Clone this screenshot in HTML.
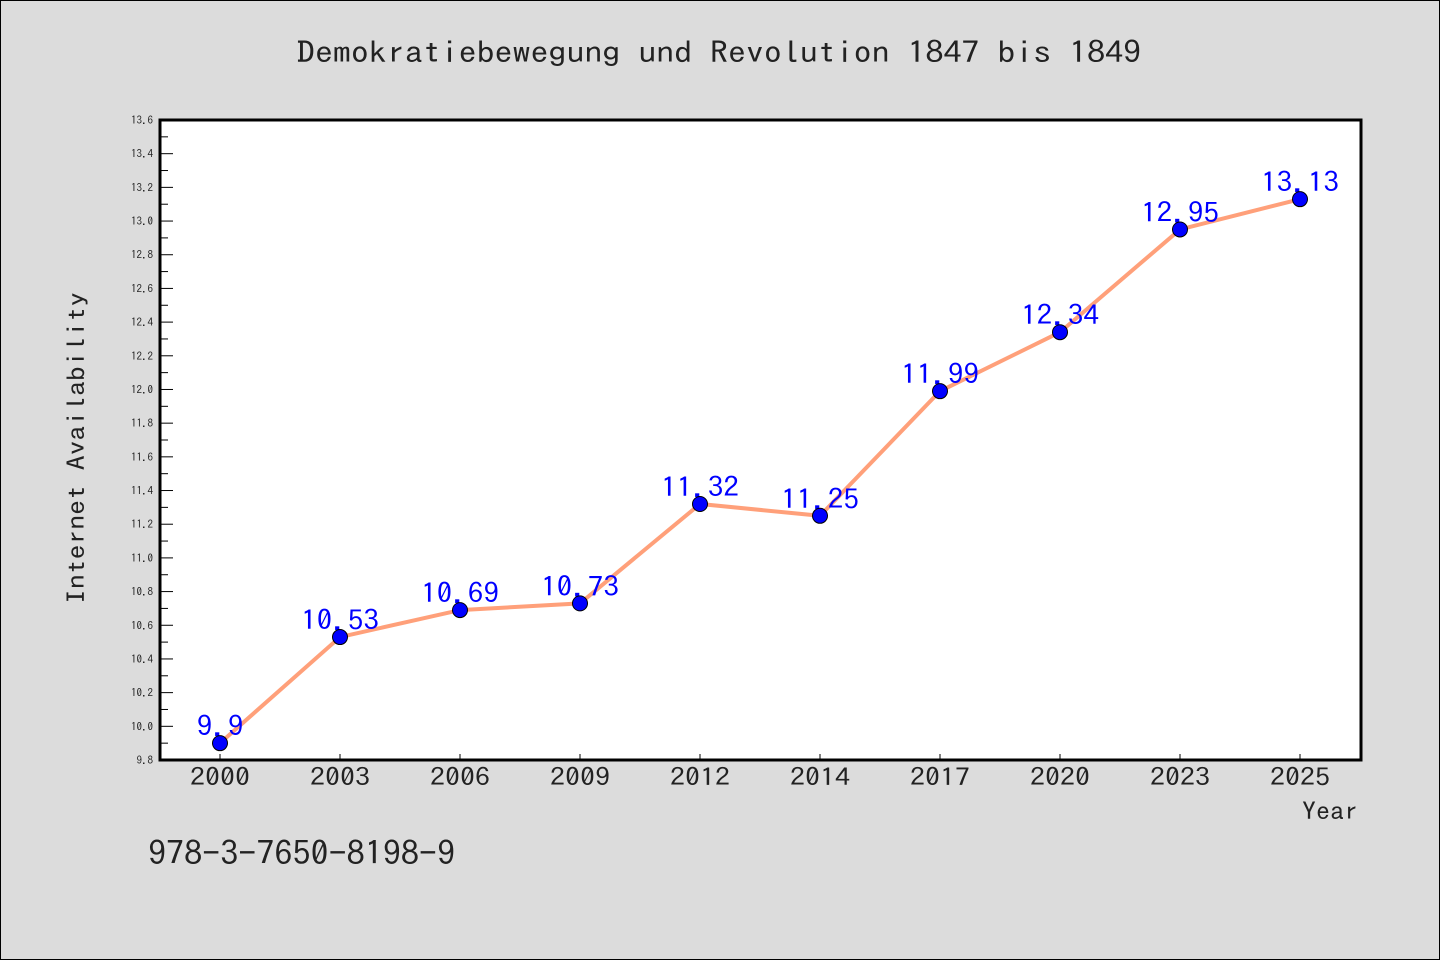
<!DOCTYPE html>
<html><head><meta charset="utf-8"><style>
body{margin:0;background:#dcdcdc;}
svg{display:block;font-family:"IPAGothic","WenQuanYi Zen Hei","DejaVu Sans Mono",monospace;}
</style></head><body>
<svg width="1440" height="960">
<rect x="0.5" y="0.5" width="1439" height="959" fill="#dcdcdc" stroke="#000"/>
<text x="297" y="63" textLength="844" lengthAdjust="spacingAndGlyphs" font-size="30" fill="#222">Demokratiebewegung und Revolution 1847 bis 1849</text>
<rect x="160" y="120" width="1201" height="640" fill="#fff"/>
<g id="yt"></g><g id="xt"></g>
<path d="M160,120 H1361 V760 H160 Z" fill="none" stroke="#000" stroke-width="3"/>
<polyline id="line" fill="none" stroke="#ffa07a" stroke-width="4"/>
<g id="lbl"></g><g id="pts"></g>
<text x="85" y="604" transform="rotate(-90 85 604)" textLength="312" lengthAdjust="spacingAndGlyphs" font-size="25" fill="#222">Internet Availability</text>
<text x="1302" y="820" textLength="56" lengthAdjust="spacingAndGlyphs" font-size="25" fill="#222">Year</text>
<text x="148" y="865" textLength="307" lengthAdjust="spacingAndGlyphs" font-size="33" fill="#222">978-3-7650-8198-9</text>
</svg>
<script>
const categories=["2000","2003","2006","2009","2012","2014","2017","2020","2023","2025"];
const values=[9.9,10.53,10.69,10.73,11.32,11.25,11.99,12.34,12.95,13.13];
const valueLabels=["9.9","10.53","10.69","10.73","11.32","11.25","11.99","12.34","12.95","13.13"];
const yMin=9.8,yMax=13.6;
const NS="http://www.w3.org/2000/svg";
const X=i=>220+i*120;
const Y=v=>760-(v-yMin)/(yMax-yMin)*640;
function mk(t,a,p){const e=document.createElementNS(NS,t);for(const k in a)e.setAttribute(k,a[k]);p.appendChild(e);return e;}
const yt=document.getElementById('yt');
for(let k=0;k<=38;k++){const v=yMin+k*0.1;const y=Y(v);const major=k%2===0;
 const l=mk('line',{x1:160,x2:major?173:168,y1:y,y2:y,stroke:'#000','stroke-width':1},yt);
 
 
 if(major){const t=mk('text',{x:153,y:y+4,'text-anchor':'end','font-size':11,fill:'#222'},yt);t.textContent=v.toFixed(1);
 
 }}
const xt=document.getElementById('xt');
categories.forEach((c,i)=>{const l=mk('line',{x1:X(i),x2:X(i),y1:760,y2:754,stroke:'#000'},xt);
 
 
 const t=mk('text',{x:X(i)-30,y:786,textLength:60,lengthAdjust:'spacingAndGlyphs','font-size':25,fill:'#222'},xt);t.textContent=c;
 
 });
document.getElementById('line').setAttribute('points',values.map((v,i)=>X(i)+','+Y(v)).join(' '));
const lbl=document.getElementById('lbl'),pts=document.getElementById('pts');
values.forEach((v,i)=>{const s=valueLabels[i];const w=s.length*15.6;
 const t=mk('text',{x:X(i)-w/2,y:Y(v)-7,textLength:w,lengthAdjust:'spacingAndGlyphs','font-size':27,fill:'#0000ff'},lbl);t.textContent=s;
 
 
 const c=mk('circle',{cx:X(i),cy:Y(v),r:7.5,fill:'#0000ff',stroke:'#000','stroke-width':1},pts);
 
 });
</script>
</body></html>
